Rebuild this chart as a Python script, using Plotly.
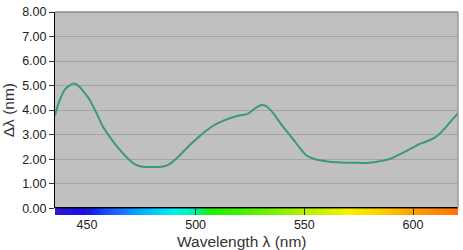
import numpy as np
import plotly.graph_objects as go

# ---- data ----
wavelength_nm = [435.3, 437, 440, 443.5, 446, 448, 451, 454, 457.5, 461, 464, 468, 472, 475,
                 480, 485, 488, 492, 497, 502, 507, 511, 516, 520, 524, 527, 530, 532, 535,
                 540, 545, 548, 551, 555, 560, 565, 570, 575, 580, 585, 590, 595, 600, 603,
                 607, 610, 613, 616, 620.7]
delta_lambda_nm = [3.78, 4.30, 4.86, 5.08, 5.00, 4.80, 4.45, 3.95, 3.30, 2.85, 2.50, 2.10, 1.80, 1.70,
                   1.68, 1.70, 1.80, 2.10, 2.55, 2.95, 3.30, 3.50, 3.68, 3.78, 3.85, 4.05, 4.20, 4.18, 3.95,
                   3.35, 2.80, 2.45, 2.15, 2.00, 1.92, 1.87, 1.85, 1.85, 1.85, 1.92, 2.03, 2.25, 2.47, 2.62,
                   2.75, 2.88, 3.10, 3.40, 3.88]

spectrum_nm = [435, 450, 462, 475, 490, 500, 507, 520, 550, 570, 585, 600, 621]
spectrum_colors = ["#3018d0", "#1010f0", "#1f5cff", "#00b0ff", "#00f0f0", "#00f0a0", "#20f000",
                   "#40f000", "#b0f000", "#f8f000", "#ffd000", "#ffa000", "#ff7010"]

y_ticks = [0, 1, 2, 3, 4, 5, 6, 7, 8]
y_ticklabels = [f"{v:.2f}" for v in y_ticks]
x_ticks = [450, 500, 550, 600]

x_range = [435.3, 620.7]

# ---- build ----
lo, hi = spectrum_nm[0], spectrum_nm[-1]
colorscale = [[(w - lo) / (hi - lo), c] for w, c in zip(spectrum_nm, spectrum_colors)]
strip_x = np.arange(x_range[0], x_range[1] + 0.5, 0.5)

fig = go.Figure()
fig.add_trace(go.Heatmap(x=strip_x, y=[0], z=[strip_x], colorscale=colorscale,
                         zmin=lo, zmax=hi, showscale=False, hoverinfo="skip",
                         xaxis="x", yaxis="y2"))
fig.add_trace(go.Scatter(x=wavelength_nm, y=delta_lambda_nm, mode="lines",
                         line=dict(color="#3a9a74", width=2, shape="spline", smoothing=0.6),
                         xaxis="x", yaxis="y", showlegend=False))

font = "Liberation Sans, Arial, sans-serif"
strip_frac = 7 / 210

fig.update_layout(
    width=463, height=250,
    margin=dict(l=55, r=5, t=5, b=35),
    paper_bgcolor="white",
    plot_bgcolor="#c0c0c0",
    showlegend=False,
    font=dict(family=font, color="#222222"),
    xaxis=dict(range=x_range, anchor="y2", tickvals=x_ticks, ticks="inside", ticklen=7,
               tickcolor="#333333", tickwidth=1, showgrid=False, zeroline=False, showline=False,
               tickfont=dict(size=12.5, family=font, color="#222222"),
               ticklabeloverflow="allow"),
    yaxis=dict(domain=[strip_frac, 1], range=[0, 8], tickvals=y_ticks, ticktext=y_ticklabels,
               ticks="outside", ticklen=5, tickcolor="#333333", showgrid=True,
               gridcolor="#a4a4a4", gridwidth=1, zeroline=True, zerolinecolor="#000000",
               zerolinewidth=1.5, showline=True, linecolor="#000000", linewidth=1,
               tickfont=dict(size=12.5, family=font, color="#222222"),
               ticklabeloverflow="allow",
               title=dict(text="Δλ (nm)", font=dict(size=15.5, family=font, color="#333333"),
                          standoff=5)),
    yaxis2=dict(domain=[0, strip_frac], range=[-0.5, 0.5], showticklabels=False, showgrid=False,
                zeroline=False, ticks=""),
    shapes=[
        dict(type="line", xref="x domain", yref="y domain", x0=0, x1=1, y0=1, y1=1,
             line=dict(color="#8a8a8a", width=1.5)),
        dict(type="line", xref="x domain", yref="y domain", x0=1, x1=1, y0=0, y1=1,
             line=dict(color="#9a9a9a", width=1.5)),
    ],
    annotations=[
        dict(text="Wavelength λ (nm)", xref="paper", yref="paper", x=0.463, y=-0.129,
             xanchor="center", yanchor="middle", showarrow=False,
             font=dict(size=15.5, family=font, color="#333333")),
    ],
)

fig.write_html("out.html")
